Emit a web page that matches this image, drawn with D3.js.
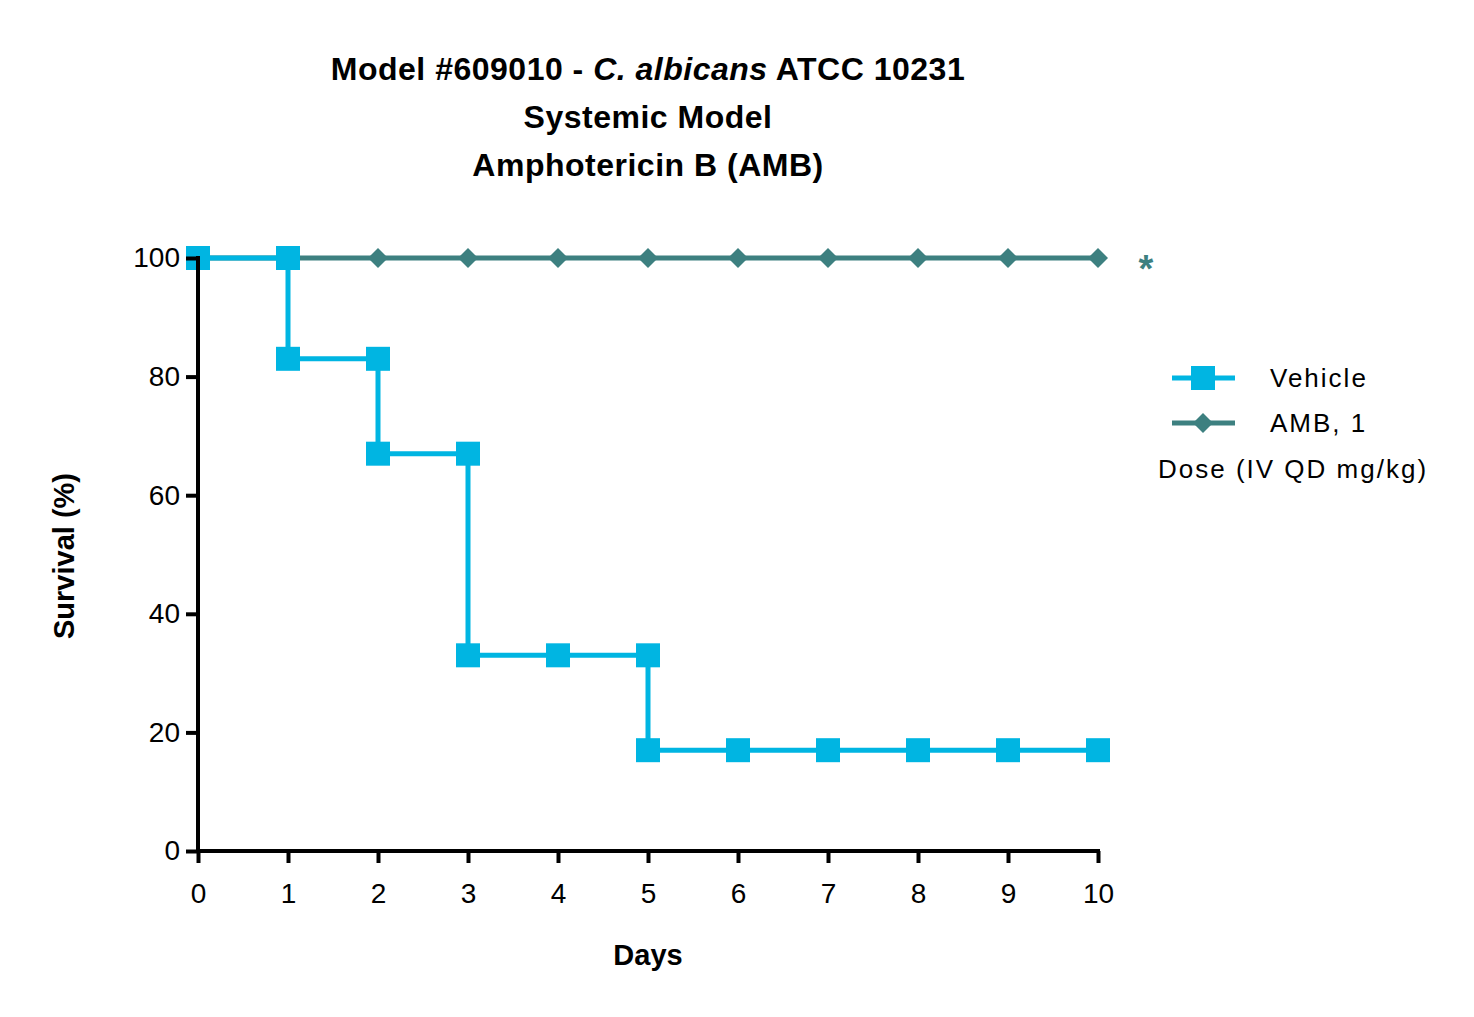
<!DOCTYPE html>
<html><head><meta charset="utf-8">
<script src="https://cdn.jsdelivr.net/npm/d3@7"></script>
<style>body{margin:0;background:#fff}text{font-family:"Liberation Sans",Arial,sans-serif}</style>
</head><body><svg id="c" width="1474" height="1017"></svg>
<script>
const days=[0,1,2,3,4,5,6,7,8,9,10];
const xTicks=[0,1,2,3,4,5,6,7,8,9,10];
const yTicks=[0,20,40,60,80,100];
// step points for Vehicle (Kaplan-Meier)
const vehicleX=[0,1,1,2,2,3,3,4,5,5,6,7,8,9,10];
const vehicleY=[100,100,83,83,67,67,33,33,33,17,17,17,17,17,17];
const ambY=[100,100,100,100,100,100,100,100,100,100,100];
const cVeh="#00B5E2", cAmb="#3D8080";
const svg=d3.select("#c");
const x=d3.scaleLinear().domain([0,10]).range([198,1098]);
const y=d3.scaleLinear().domain([0,100]).range([851,258]);
const line=d3.line().x(d=>x(d[0])).y(d=>y(d[1]));
const amb=days.map((d,i)=>[d,ambY[i]]);
const veh=vehicleX.map((d,i)=>[d,vehicleY[i]]);
const dia="M0,-10L10,0L0,10L-10,0Z";
svg.append("path").attr("d",line(amb)).attr("fill","none").attr("stroke",cAmb).attr("stroke-width",5);
svg.selectAll(".dm").data(amb).enter().append("path").attr("d",dia).attr("transform",d=>`translate(${x(d[0])},${y(d[1])})`).attr("fill",cAmb);
svg.append("path").attr("d",line(veh)).attr("fill","none").attr("stroke",cVeh).attr("stroke-width",5);
svg.selectAll(".sq").data(veh).enter().append("rect").attr("x",d=>x(d[0])-12).attr("y",d=>y(d[1])-12).attr("width",24).attr("height",24).attr("fill",cVeh);
const xa=svg.append("g").attr("transform","translate(0,851)").call(d3.axisBottom(x).tickValues(xTicks).tickSize(12).tickPadding(20).tickSizeOuter(0));
const ya=svg.append("g").attr("transform","translate(198,0)").call(d3.axisLeft(y).tickValues(yTicks).tickSize(12).tickPadding(6).tickSizeOuter(0));
[xa,ya].forEach(a=>{a.attr("font-size",null).attr("font-family",null);a.selectAll("path,line").attr("stroke","#000").attr("stroke-width",4);a.selectAll("text").style("font-size","28px").attr("fill","#000");});
ya.select(".domain").attr("d","M0,851V256");
xa.select(".domain").attr("d","M196,0H1100");
svg.append("text").attr("x",648).attr("y",965).attr("text-anchor","middle").attr("font-size",29).attr("font-weight","bold").text("Days");
svg.append("text").attr("transform","translate(74,556) rotate(-90)").attr("text-anchor","middle").attr("font-size",29).attr("font-weight","bold").text("Survival (%)");
const t=svg.append("g").attr("font-size",32).attr("font-weight","bold").attr("text-anchor","middle").attr("letter-spacing",0.5);
const t1=t.append("text").attr("x",648).attr("y",80);
t1.append("tspan").text("Model #609010 - ");t1.append("tspan").attr("font-style","italic").text("C. albicans");t1.append("tspan").text(" ATCC 10231");
t.append("text").attr("x",648).attr("y",128).text("Systemic Model");
t.append("text").attr("x",648).attr("y",176).text("Amphotericin B (AMB)");
svg.append("text").attr("x",1146).attr("y",282).attr("text-anchor","middle").attr("font-size",38).attr("font-weight","bold").attr("fill",cAmb).text("*");
const lg=svg.append("g");
lg.append("line").attr("x1",1172).attr("x2",1235).attr("y1",378).attr("y2",378).attr("stroke",cVeh).attr("stroke-width",5);
lg.append("rect").attr("x",1191).attr("y",366).attr("width",24).attr("height",24).attr("fill",cVeh);
lg.append("line").attr("x1",1172).attr("x2",1235).attr("y1",423).attr("y2",423).attr("stroke",cAmb).attr("stroke-width",5);
lg.append("path").attr("d",dia).attr("transform","translate(1203,423)").attr("fill",cAmb);
[["Vehicle",1270,387],["AMB, 1",1270,432],["Dose (IV QD mg/kg)",1158,478]].forEach(d=>lg.append("text").attr("x",d[1]).attr("y",d[2]).attr("font-size",26).attr("letter-spacing",2).text(d[0]));
</script></body></html>
